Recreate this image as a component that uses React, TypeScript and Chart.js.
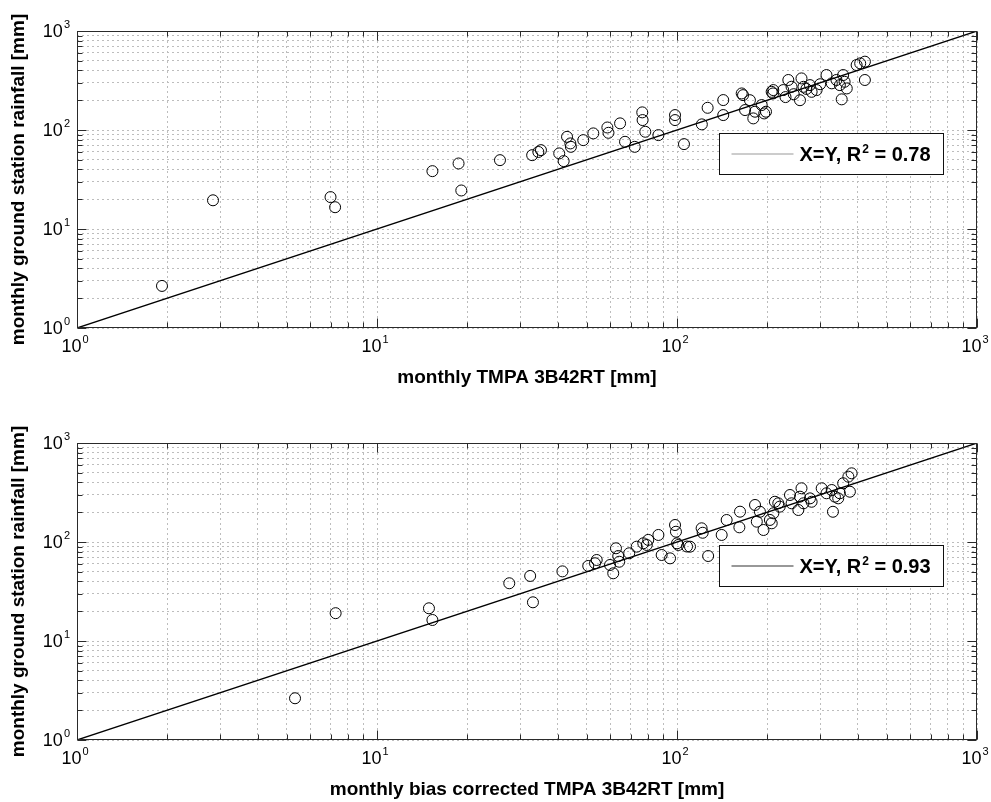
import React, { useEffect, useRef } from "react";
import { Chart, registerables } from "chart.js";
Chart.register(...registerables);

// ---------- data ----------
const tickValues = [1, 10, 100, 1000];
const tickExponents = ["0", "1", "2", "3"];
const yTitle = "monthly ground station rainfall [mm]";
const xTitleTop = "monthly TMPA 3B42RT [mm]";
const xTitleBottom = "monthly bias corrected TMPA 3B42RT [mm]";
const legendBase = "X=Y, R";
const legendSup = "2";
const r2Top = "0.78";
const r2Bottom = "0.93";

const refLineX = [1, 1000];
const refLineY = [1, 1000];

const topX = [1.92, 2.84, 7.0, 7.25, 15.3, 18.7, 19.1, 25.7, 32.9, 35.2, 34.5, 40.5, 41.9, 43, 44.3, 44.1, 48.7, 52.6, 58.6, 59.1, 64.6, 67.1, 72.3, 76.6, 76.8, 78.4, 86.7, 98.5, 98.5, 105.5, 121, 126.5, 142.6, 142.6, 164.3, 175, 168.6, 179.6, 182, 191.6, 195.3, 206.8, 209.4, 209, 226, 235, 240.9, 257, 260, 264, 277.5, 281, 292, 315, 328, 340, 349, 358, 362, 368, 354, 397, 423, 423, 408, 245, 270, 300, 230, 166, 198];
const topY = [2.66, 19.5, 21, 16.6, 38.4, 45.9, 24.5, 49.6, 55.7, 62.6, 60, 58, 48.5, 85.3, 67.6, 73.2, 79, 92.4, 106, 93.7, 116.7, 76, 67.6, 150.7, 126, 96, 88.8, 141.5, 126, 72, 114, 167.6, 200.6, 141.5, 234, 200, 159, 131, 153, 178.6, 147, 243, 253, 234, 253, 320, 273.5, 200, 332, 273, 284, 243, 253, 359, 296, 320, 284, 359, 307, 263, 204, 453, 490, 320, 471, 230, 260, 290, 215, 225, 153];

const bottomX = [5.33, 7.28, 14.9, 15.3, 27.6, 32.4, 33.1, 41.5, 50.6, 54, 53.3, 59.8, 61.3, 62.6, 63.7, 64.2, 69.3, 73.4, 80.2, 79.3, 86.7, 88.9, 94.8, 98.5, 99.2, 101, 110.5, 120.8, 121.8, 127, 140.9, 146.4, 162.2, 161.4, 182, 189, 184.5, 194.2, 206.9, 209.5, 217.6, 204, 212, 220, 238, 241, 253.8, 257, 260, 264, 277.5, 281, 303.6, 315, 328, 336, 344.7, 331, 349, 358, 372.6, 382, 377, 77.2, 108, 100];
const bottomY = [2.64, 19.1, 21.4, 16.3, 38.3, 45.4, 24.6, 50.5, 57.3, 65.8, 61, 58.6, 48.3, 86.4, 72.2, 63.2, 76.9, 89.7, 105, 93.3, 117.8, 73.9, 68.4, 148.5, 127, 93.3, 89.7, 137.5, 124, 72.2, 117.8, 166.8, 202.4, 140.7, 236.6, 202, 160.4, 132.2, 154.5, 195, 246, 167, 255, 227.5, 298.4, 246, 210.5, 287, 348.6, 246, 276, 255, 348.6, 310.6, 335, 287, 276, 202, 310.6, 392, 457, 494, 322, 97, 90, 97];

// grid positions of a log axis (1..9 x 10^k)
const gridValues: number[] = [];
for (const d of [1, 10, 100]) for (let m = 1; m <= 9; m++) gridValues.push(m * d);
gridValues.push(1000);

const FONT = "'Liberation Sans', Arial, Helvetica, sans-serif";

function drawPow(ctx: CanvasRenderingContext2D, exp: string, x: number, y: number, align: "center" | "right", raise: number) {
  ctx.font = `18px ${FONT}`;
  const wb = ctx.measureText("10").width;
  ctx.font = `11px ${FONT}`;
  const we = ctx.measureText(exp).width;
  const total = wb + 1 + we;
  const left = align === "center" ? x - total / 2 : x - total;
  ctx.textAlign = "left";
  ctx.textBaseline = "alphabetic";
  ctx.font = `18px ${FONT}`;
  ctx.fillText("10", left, y);
  ctx.font = `11px ${FONT}`;
  ctx.fillText(exp, left + wb + 1, y - raise);
}

const decorPlugin = {
  id: "decor",
  afterDatasetsDraw(chart: any, _args: any, opts: any) {
    const { ctx, chartArea: a, scales } = chart;
    const xs = scales.x;
    const ys = scales.y;
    ctx.save();
    // box
    ctx.strokeStyle = "#2a2a2a";
    ctx.lineWidth = 1;
    ctx.setLineDash([]);
    const L = Math.round(a.left) + 0.5, R = Math.round(a.right) - 0.5;
    const T = Math.round(a.top) + 0.5, B = Math.round(a.bottom) - 0.5;
    ctx.strokeRect(L, T, R - L, B - T);
    // inward tick marks
    ctx.beginPath();
    for (const v of gridValues) {
      const len = tickValues.includes(v) ? 9 : 5;
      const px = Math.round(xs.getPixelForValue(v)) + 0.5;
      ctx.moveTo(px, B); ctx.lineTo(px, B - len);
      ctx.moveTo(px, T); ctx.lineTo(px, T + len);
      const py = Math.round(ys.getPixelForValue(v)) + 0.5;
      ctx.moveTo(L, py); ctx.lineTo(L + len, py);
      ctx.moveTo(R, py); ctx.lineTo(R - len, py);
    }
    ctx.stroke();
    // tick labels
    ctx.fillStyle = "#000";
    tickValues.forEach((v, i) => {
      const px = xs.getPixelForValue(v);
      drawPow(ctx, tickExponents[i], px - 2, a.bottom + 24, "center", 9);
      const py = ys.getPixelForValue(v);
      drawPow(ctx, tickExponents[i], a.left - 7, py + 6, "right", 9);
    });
    // titles
    ctx.font = `bold 19px ${FONT}`;
    ctx.textAlign = "center";
    ctx.textBaseline = "middle";
    ctx.fillText(opts.xTitle, (a.left + a.right) / 2, a.bottom + 50);
    ctx.save();
    ctx.translate(19, (a.top + a.bottom) / 2);
    ctx.rotate(-Math.PI / 2);
    ctx.fillText(yTitle, 0, 0);
    ctx.restore();
    // legend
    const bx = Math.round(a.right - 258) + 0.5;
    const by = Math.round(a.top + 102) + 0.5;
    const bw = 224, bh = 41;
    ctx.fillStyle = "#fff";
    ctx.fillRect(bx, by, bw, bh);
    ctx.strokeStyle = "#111";
    ctx.strokeRect(bx, by, bw, bh);
    const cy = by + bh / 2;
    ctx.strokeStyle = opts.lineColor;
    ctx.lineWidth = 1.2;
    ctx.beginPath();
    ctx.moveTo(bx + 12, cy);
    ctx.lineTo(bx + 74, cy);
    ctx.stroke();
    ctx.fillStyle = "#000";
    ctx.textAlign = "left";
    ctx.textBaseline = "alphabetic";
    let tx = bx + 80;
    const base = cy + 7;
    ctx.font = `bold 20px ${FONT}`;
    ctx.fillText(legendBase, tx, base);
    tx += ctx.measureText(legendBase).width + 1;
    ctx.font = `bold 12px ${FONT}`;
    ctx.fillText(legendSup, tx, base - 8);
    tx += ctx.measureText(legendSup).width;
    ctx.font = `bold 20px ${FONT}`;
    ctx.fillText(" = " + opts.r2, tx, base);
    ctx.restore();
  },
};

function makeScale(axis: "x" | "y", size: number) {
  return {
    type: "logarithmic",
    min: 1,
    max: 1000,
    afterBuildTicks: (scale: any) => {
      scale.ticks = gridValues.map((v) => ({ value: v }));
    },
    afterFit: (scale: any) => {
      if (axis === "x") scale.height = size;
      else scale.width = size;
    },
    ticks: { display: false },
    grid: { color: "#bdbdbd", lineWidth: 1, drawTicks: false },
    border: { display: false, dash: [2, 3] },
    title: { display: false },
  };
}

function Plot(props: { xs: number[]; ys: number[]; xTitle: string; r2: string; top: number; height: number; axisH: number; padTop: number; lineColor: string }) {
  const ref = useRef<HTMLCanvasElement | null>(null);
  useEffect(() => {
    if (!ref.current) return;
    const pts = props.xs.map((x, i) => ({ x, y: props.ys[i] }));
    const line = refLineX.map((x, i) => ({ x, y: refLineY[i] }));
    const chart = new Chart(ref.current, {
      type: "scatter",
      data: {
        datasets: [
          {
            data: line,
            showLine: true,
            borderColor: "#000",
            borderWidth: 1.3,
            pointRadius: 0,
          },
          {
            data: pts,
            showLine: false,
            pointStyle: "circle",
            pointRadius: 5.5,
            pointBorderWidth: 1,
            borderColor: "#000",
            backgroundColor: "rgba(0,0,0,0)",
          },
        ],
      } as any,
      options: {
        animation: false,
        responsive: false,
        devicePixelRatio: 1,
        layout: { padding: { top: props.padTop, right: 14, left: 0, bottom: 0 } },
        scales: {
          x: makeScale("x", props.axisH),
          y: makeScale("y", 77),
        } as any,
        plugins: {
          legend: { display: false },
          tooltip: { enabled: false },
          decor: { xTitle: props.xTitle, r2: props.r2, lineColor: props.lineColor },
        } as any,
      },
      plugins: [decorPlugin as any],
    });
    return () => chart.destroy();
  }, []);
  return (
    <canvas
      ref={ref}
      width={991}
      height={props.height}
      style={{ position: "absolute", left: 0, top: props.top, width: 991, height: props.height, display: "block" }}
    />
  );
}

export default function App() {
  return (
    <div style={{ position: "absolute", left: 0, top: 0, width: 991, height: 802, background: "#fff", overflow: "hidden" }}>
      <Plot xs={topX} ys={topY} xTitle={xTitleTop} r2={r2Top} top={0} height={400} axisH={72} padTop={31} lineColor="#9a9a9a" />
      <Plot xs={bottomX} ys={bottomY} xTitle={xTitleBottom} r2={r2Bottom} top={400} height={402} axisH={62} padTop={43} lineColor="#333" />
    </div>
  );
}
